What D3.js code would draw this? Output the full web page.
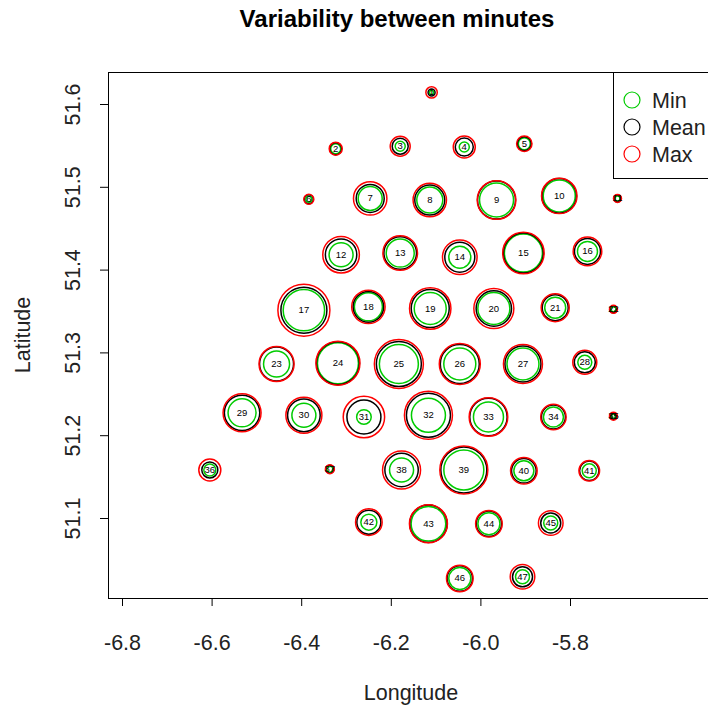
<!DOCTYPE html>
<html>
<head>
<meta charset="utf-8">
<script src="https://cdn.jsdelivr.net/npm/d3@7"></script>
<style>
  body { margin: 0; background: #fff; }
  svg text { font-family: 'Liberation Sans', Arial, sans-serif; }
</style>
</head>
<body>
<svg id="chart" width="708" height="711"></svg>
<script>
// station positions
const stationIds = d3.range(1, 48);
const lon = [-6.109, -6.323, -6.179, -6.036, -5.902, -6.383, -6.246, -6.113, -5.964, -5.824,
  -5.694, -6.311, -6.179, -6.046, -5.904, -5.761, -6.394, -6.250, -6.112, -5.970,
  -5.833, -5.703, -6.455, -6.318, -6.182, -6.046, -5.905, -5.767, -6.532, -6.394,
  -6.260, -6.116, -5.982, -5.837, -5.703, -6.604, -6.336, -6.176, -6.037, -5.903,
  -5.757, -6.249, -6.116, -5.981, -5.843, -6.046, -5.906];
const lat = [51.614, 51.546, 51.549, 51.548, 51.552, 51.485, 51.486, 51.484, 51.484, 51.489,
  51.486, 51.418, 51.420, 51.415, 51.420, 51.422, 51.351, 51.355, 51.353, 51.353,
  51.354, 51.352, 51.286, 51.287, 51.286, 51.286, 51.286, 51.288, 51.227, 51.224,
  51.222, 51.224, 51.222, 51.222, 51.223, 51.158, 51.159, 51.158, 51.158, 51.157,
  51.157, 51.095, 51.093, 51.093, 51.094, 51.027, 51.029];

// variability per station
const minVals = [2, 5, 5, 5, 6, 3, 12, 13, 17, 16,
  2.5, 12, 14, 11, 19, 10, 20.7, 14, 16, 16,
  10.5, 2.5, 13, 20.5, 19.5, 16, 16, 7, 14, 12,
  7.3, 17, 15, 10, 2, 6, 3, 12, 20, 10,
  7, 8, 17.3, 11, 7, 11, 7];
const meanVals = [3.5, 6, 8, 9, 7, 4.5, 14, 15, 19, 17.3,
  3.5, 15.7, 16.3, 15, 20, 13, 23, 15.3, 19, 17.7,
  13, 3.5, 17, 21.5, 22.5, 19.5, 18, 10.5, 17.7, 16.3,
  17, 22, 18.7, 12, 3, 8, 4, 16.7, 23, 12.3,
  9.7, 12, 18.7, 12.7, 10, 12.7, 10];
const maxVals = [5.7, 6.5, 10, 11, 7.7, 5, 16.7, 16.7, 19.3, 17.7,
  4, 18.3, 17.3, 17.3, 20.7, 14.3, 26, 16.7, 20.7, 20,
  14, 4, 17.5, 22, 24.5, 20.5, 19.5, 12, 19, 18,
  20.7, 24, 19.3, 12.7, 4, 11, 4.5, 19, 24, 13.3,
  10.3, 13.3, 19, 13.3, 12.3, 13.3, 12.3];

const xTicks = [-6.8, -6.6, -6.4, -6.2, -6.0, -5.8];
const yTicks = [51.1, 51.2, 51.3, 51.4, 51.5, 51.6];
const legendLabels = ['Min', 'Mean', 'Max'];
const legendColors = ['#00cc00', '#000000', '#ff0000'];

const svg = d3.select('#chart');
const box = { left: 108, top: 72, right: 720, bottom: 598 };
const labelSize = '21.5px';
const font = "'Liberation Sans', Arial, sans-serif";

const x = d3.scaleLinear().domain([-6.8, -5.8]).range([122, 570]);
const y = d3.scaleLinear().domain([51.1, 51.6]).range([518, 104]);
const r = d3.scaleLinear().domain([0, 10]).range([0, 10]);

// title
svg.append('text')
  .attr('x', 397)
  .attr('y', 27)
  .attr('text-anchor', 'middle')
  .attr('font-size', '24px')
  .attr('font-weight', 'bold')
  .text('Variability between minutes');

// axes
const fmt = (d) => d.toFixed(1);
const xAxis = d3.axisBottom(x).tickValues(xTicks).tickFormat(fmt).tickSize(8).tickPadding(29);
const yAxis = d3.axisLeft(y).tickValues(yTicks).tickFormat(fmt).tickSize(8);

const gx = svg.append('g').attr('transform', `translate(0,${box.bottom})`).call(xAxis);
gx.select('.domain').remove();
gx.selectAll('text').attr('font-size', labelSize).attr('fill', '#222').attr('font-family', font);
gx.selectAll('line').attr('stroke', '#000');

const gy = svg.append('g').attr('transform', `translate(${box.left},0)`).call(yAxis);
gy.select('.domain').remove();
gy.selectAll('line').attr('stroke', '#000');
gy.selectAll('text')
  .attr('font-size', labelSize)
  .attr('fill', '#222')
  .attr('font-family', font)
  .attr('x', null)
  .attr('dy', null)
  .attr('text-anchor', 'middle')
  .attr('transform', 'translate(-34,0) rotate(-90)')
  .attr('y', 6);

svg.append('text')
  .attr('x', 411)
  .attr('y', 700)
  .attr('text-anchor', 'middle')
  .attr('font-size', labelSize)
  .attr('fill', '#222')
  .text('Longitude');

svg.append('text')
  .attr('transform', `translate(30,${(box.top + box.bottom) / 2}) rotate(-90)`)
  .attr('text-anchor', 'middle')
  .attr('font-size', labelSize)
  .attr('fill', '#222')
  .text('Latitude');

// plot box
svg.append('rect')
  .attr('x', box.left + 0.5)
  .attr('y', box.top + 0.5)
  .attr('width', box.right - box.left)
  .attr('height', box.bottom - box.top)
  .attr('fill', 'none')
  .attr('stroke', '#000')
  .attr('stroke-width', 1);

const stations = stationIds.map((id, i) => ({
  id, lon: lon[i], lat: lat[i], min: minVals[i], mean: meanVals[i], max: maxVals[i]
}));

const g = svg.append('g');
const layers = [['min', legendColors[0]], ['mean', legendColors[1]], ['max', legendColors[2]]];
layers.forEach(([key, col]) => {
  g.selectAll(`.c-${key}`)
    .data(stations)
    .enter()
    .append('circle')
    .attr('class', `c-${key}`)
    .attr('cx', (d) => x(d.lon))
    .attr('cy', (d) => y(d.lat))
    .attr('r', (d) => r(d[key]))
    .attr('fill', 'none')
    .attr('stroke', col)
    .attr('stroke-width', 1.5);
});

g.selectAll('.lab')
  .data(stations)
  .enter()
  .append('text')
  .attr('class', 'lab')
  .attr('x', (d) => x(d.lon))
  .attr('y', (d) => y(d.lat) + 3)
  .attr('text-anchor', 'middle')
  .attr('font-size', '9.5px')
  .text((d) => d.id);

// legend
const lg = svg.append('g');
lg.append('rect')
  .attr('x', 613.5)
  .attr('y', box.top + 0.5)
  .attr('width', 120)
  .attr('height', 106)
  .attr('fill', '#fff')
  .attr('stroke', '#000');
legendLabels.forEach((lab, i) => {
  lg.append('circle')
    .attr('cx', 632)
    .attr('cy', 100 + i * 27)
    .attr('r', 8)
    .attr('fill', 'none')
    .attr('stroke', legendColors[i])
    .attr('stroke-width', 1.2);
  lg.append('text')
    .attr('x', 652)
    .attr('y', 108 + i * 27)
    .attr('font-size', labelSize)
    .attr('fill', '#222')
    .text(lab);
});
</script>
</body>
</html>
